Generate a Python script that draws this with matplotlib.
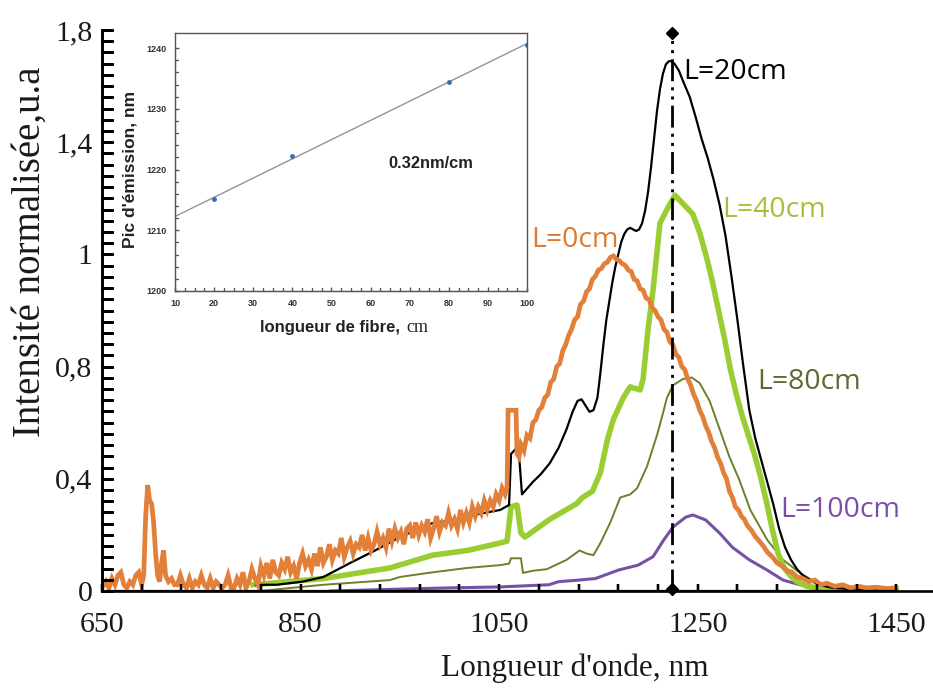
import matplotlib
matplotlib.use("Agg")
import matplotlib.pyplot as plt
import numpy as np

# ---------------- data ----------------
# L = 0 cm (orange, noisy)
wl_0 = [650, 654, 657, 660, 663, 666, 669, 672, 675, 678, 681, 684, 687, 690, 692, 694, 696, 698,
        700, 702, 704, 706, 708, 710, 712, 714, 717, 720, 723, 726, 729, 732, 735, 738, 741, 744,
        747, 750, 753, 756, 759, 762, 765, 768, 771, 774, 777, 780, 783, 786, 789, 792, 795, 798,
        801, 804, 807, 810, 813, 816, 819, 822, 825, 828, 831, 834, 837, 840, 843, 846, 849, 852,
        855, 858, 861, 864, 867, 870, 873, 876, 879, 882, 885, 888, 891, 894, 897, 900, 903, 906,
        909, 912, 915, 918, 921, 924, 927, 930, 933, 936, 939, 942, 945, 948, 951, 954, 957, 960,
        963, 966, 969, 972, 975, 978, 981, 984, 987, 990, 993, 996, 999, 1002, 1005, 1008, 1011,
        1014, 1017, 1020, 1023, 1026, 1029, 1032, 1035, 1038, 1041, 1044, 1047, 1050, 1053, 1056,
        1058, 1059, 1067, 1068, 1070, 1072, 1075, 1078, 1081, 1084, 1087, 1090, 1093, 1096, 1099,
        1102, 1105, 1108, 1111, 1114, 1117, 1120, 1123, 1126, 1129, 1132, 1135, 1138, 1141, 1144,
        1147, 1150, 1153, 1156, 1159, 1162, 1165, 1168, 1171, 1174, 1177, 1180, 1183, 1186, 1189,
        1192, 1195, 1198, 1201, 1204, 1207, 1210, 1213, 1216, 1219, 1222, 1225, 1228, 1231, 1234,
        1237, 1240, 1243, 1246, 1249, 1252, 1255, 1258, 1261, 1264, 1267, 1270, 1273, 1276, 1279,
        1282, 1285, 1288, 1291, 1294, 1297, 1300, 1304, 1308, 1312, 1316, 1320, 1325, 1330, 1335,
        1340, 1345, 1350, 1356, 1362, 1368, 1374, 1380, 1388, 1396, 1404, 1412, 1420, 1430, 1440,
        1450]
int_0 = [0.01, 0.03, 0.01, 0.04, 0.02, 0.05, 0.06, 0.02, 0.01, 0.03, 0.02, 0.05, 0.06, 0.02, 0.05, 0.24, 0.34, 0.29,
         0.28, 0.22, 0.12, 0.05, 0.03, 0.09, 0.13, 0.05, 0.03, 0.04, 0.02, 0.02, 0.05, 0.02, 0.01, 0.04, 0.01, 0.03,
         0.02, 0.05, 0.02, 0.01, 0.04, 0.01, 0.03, 0.02, 0.01, 0.02, 0.05, 0.01, 0.01, 0.04, 0.02, 0.06, 0.01, 0.03,
         0.07, 0.04, 0.02, 0.08, 0.05, 0.09, 0.04, 0.10, 0.06, 0.05, 0.09, 0.07, 0.11, 0.06, 0.08, 0.04, 0.09, 0.12,
         0.08, 0.10, 0.07, 0.12, 0.08, 0.14, 0.09, 0.11, 0.15, 0.10, 0.13, 0.12, 0.17, 0.11, 0.14, 0.16, 0.12, 0.15,
         0.14, 0.18, 0.13, 0.17, 0.13, 0.15, 0.19, 0.15, 0.17, 0.14, 0.20, 0.16, 0.20, 0.17, 0.19, 0.15, 0.20, 0.21,
         0.17, 0.22, 0.18, 0.21, 0.19, 0.23, 0.17, 0.20, 0.24, 0.19, 0.22, 0.21, 0.25, 0.21, 0.23, 0.20, 0.26,
         0.22, 0.25, 0.22, 0.27, 0.24, 0.27, 0.25, 0.29, 0.26, 0.29, 0.27, 0.31, 0.29, 0.33, 0.31,
         0.33, 0.58, 0.58, 0.44, 0.43, 0.47, 0.45, 0.50, 0.49, 0.54, 0.55, 0.58, 0.59, 0.62, 0.63,
         0.67, 0.68, 0.72, 0.73, 0.77, 0.79, 0.82, 0.84, 0.87, 0.88, 0.92, 0.93, 0.96, 0.97, 1.00,
         1.01, 1.03, 1.035, 1.05, 1.055, 1.07, 1.075, 1.065, 1.06, 1.05, 1.045, 1.03, 1.025, 1.00, 0.995,
         0.97, 0.965, 0.94, 0.935, 0.91, 0.90, 0.88, 0.87, 0.84, 0.83, 0.80, 0.79, 0.76, 0.75, 0.72,
         0.71, 0.68, 0.66, 0.63, 0.61, 0.58, 0.56, 0.53, 0.51, 0.48, 0.46, 0.43, 0.41, 0.38, 0.36,
         0.32, 0.30, 0.27, 0.26, 0.24, 0.23, 0.21, 0.195, 0.175, 0.16, 0.145, 0.125, 0.11, 0.09, 0.08,
         0.065, 0.06, 0.045, 0.04, 0.03, 0.035, 0.02, 0.025, 0.015, 0.02, 0.01, 0.015, 0.01, 0.012, 0.008,
         0.01]

# L = 20 cm (black)
wl_20 = [805, 826, 852, 873, 900, 925, 950, 983, 1003, 1034, 1051, 1060, 1062, 1068, 1070, 1073,
         1084, 1092, 1101, 1110, 1118, 1124, 1129, 1133, 1137, 1141, 1145, 1149, 1152, 1155, 1158,
         1161, 1164, 1167, 1170, 1173, 1176, 1179, 1182, 1185, 1188, 1191, 1194, 1197, 1200, 1203,
         1206, 1209, 1212, 1215, 1218, 1221, 1224, 1227, 1231, 1236, 1242, 1248, 1254, 1260, 1266,
         1272, 1278, 1284, 1290, 1296, 1302, 1308, 1314, 1320, 1326, 1332, 1338, 1344, 1350, 1356,
         1363, 1372, 1386, 1420, 1450]
int_20 = [0.02, 0.02, 0.03, 0.045, 0.09, 0.13, 0.173, 0.218, 0.228, 0.25, 0.26, 0.276, 0.44, 0.46, 0.44, 0.31,
          0.35, 0.375, 0.41, 0.46, 0.52, 0.575, 0.61, 0.615, 0.595, 0.575, 0.58, 0.62, 0.70, 0.79, 0.87,
          0.93, 0.99, 1.04, 1.08, 1.12, 1.145, 1.16, 1.165, 1.16, 1.155, 1.16, 1.18, 1.22, 1.28, 1.36,
          1.45, 1.54, 1.61, 1.66, 1.69, 1.70, 1.70, 1.69, 1.67, 1.63, 1.585, 1.52, 1.45, 1.39, 1.32,
          1.24, 1.14, 1.01, 0.87, 0.72, 0.58, 0.49, 0.42, 0.35, 0.28, 0.20, 0.14, 0.10, 0.07, 0.05,
          0.035, 0.02, 0.01, 0.003, 0.0]

# L = 40 cm (light green)
wl_40 = [802, 873, 940, 983, 1018, 1051, 1058, 1062, 1068, 1072, 1076, 1101, 1128, 1134, 1144,
         1152, 1159, 1165, 1175, 1182, 1192, 1195, 1200, 1205, 1212, 1220, 1227, 1233, 1239, 1245,
         1252, 1259, 1265, 1271, 1277, 1283, 1289, 1295, 1301, 1307, 1313, 1319, 1325, 1331, 1337,
         1343, 1350, 1360, 1385, 1420, 1450]
int_40 = [0.02, 0.04, 0.074, 0.115, 0.13, 0.154, 0.16, 0.27, 0.276, 0.186, 0.173, 0.23, 0.28, 0.30, 0.32,
          0.38, 0.485, 0.55, 0.62, 0.655, 0.645, 0.68, 0.84, 0.965, 1.18, 1.23, 1.27, 1.25, 1.23, 1.21,
          1.15, 1.07, 0.99, 0.90, 0.81, 0.71, 0.63, 0.56, 0.50, 0.44, 0.37, 0.29, 0.20, 0.12, 0.075,
          0.05, 0.03, 0.015, 0.004, 0.0, 0.0]

# L = 80 cm (olive)
wl_80 = [809, 873, 940, 950, 983, 1018, 1051, 1060, 1062, 1072, 1074, 1084, 1098, 1118, 1131, 1138,
         1145, 1152, 1162, 1172, 1182, 1189, 1199, 1209, 1215, 1219, 1225, 1235, 1244, 1252, 1262,
         1272, 1282, 1292, 1303, 1320, 1336, 1353, 1370, 1386, 1423, 1450]
int_80 = [0.0, 0.02, 0.035, 0.045, 0.06, 0.074, 0.083, 0.088, 0.105, 0.105, 0.058, 0.065, 0.07, 0.10, 0.13, 0.12,
          0.115, 0.154, 0.22, 0.30, 0.31, 0.33, 0.40, 0.50, 0.57, 0.62, 0.66, 0.68, 0.685, 0.667, 0.61,
          0.52, 0.43, 0.356, 0.26, 0.164, 0.10, 0.058, 0.026, 0.013, 0.005, 0.0]

# L = 100 cm (purple)
wl_100 = [880, 950, 1000, 1050, 1100, 1110, 1130, 1147, 1170, 1190, 1205, 1215, 1225, 1238, 1245,
          1258, 1272, 1285, 1302, 1320, 1336, 1353, 1370, 1400, 1450]
int_100 = [0.0, 0.006, 0.01, 0.013, 0.02, 0.03, 0.035, 0.04, 0.067, 0.083, 0.11, 0.16, 0.205, 0.237, 0.244,
           0.228, 0.186, 0.14, 0.10, 0.067, 0.035, 0.02, 0.01, 0.003, 0.0]

peak_marker_wl = 1224
peak_marker_top = 1.79

y_tick_values = [0, 0.36, 0.72, 1.08, 1.44, 1.8]
y_tick_labels = ["0", "0,4", "0,8", "1", "1,4", "1,8"]
x_tick_values = [650, 850, 1050, 1250, 1450]

# inset data
fiber_len = [20, 40, 80, 100]
peak_wl = [1215.1, 1222.2, 1234.5, 1240.6]

# ---------------- figure ----------------
W, H = 933, 688
fig = plt.figure(figsize=(W / 100, H / 100), dpi=100)
fig.patch.set_facecolor("white")

serif = ["Liberation Serif", "DejaVu Serif"]
sans_lbl = ["Open Sans", "DejaVu Sans"]
sans_b = ["Liberation Sans", "DejaVu Sans"]

AX_W, AX_H = 831, 561
ax = fig.add_axes([102 / W, 97 / H, AX_W / W, AX_H / H])
XMIN, XMAX, YMIN, YMAX = 650, 1487, 0, 1.8
ax.set_xlim(XMIN, XMAX)
ax.set_ylim(YMIN, YMAX)

c_orange = "#E2803A"
c_green = "#9ACD32"
c_olive = "#6E7F2A"
c_purple = "#7652A3"

ax.plot(wl_100, int_100, color=c_purple, lw=2.2, zorder=2, solid_joinstyle="round")
ax.plot(wl_80, int_80, color=c_olive, lw=1.4, zorder=3, solid_joinstyle="round")
ax.plot(wl_40, int_40, color=c_green, lw=4.0, zorder=4, solid_joinstyle="round")
ax.plot(wl_20, int_20, color="black", lw=1.6, zorder=5, solid_joinstyle="round")
ax.plot(wl_0, int_0, color=c_orange, lw=3.4, zorder=6, solid_joinstyle="miter")

# vertical dash-dot-dot line with diamonds
ax.plot([peak_marker_wl, peak_marker_wl], [0, peak_marker_top], color="black", lw=2.0,
        linestyle=(0, (7.9, 2.2, 1.1, 2.2, 1.1, 2.2)), zorder=7, clip_on=False)
ax.plot([peak_marker_wl, peak_marker_wl], [0.005, peak_marker_top], linestyle="none",
        marker="D", ms=6, color="black", zorder=8, clip_on=False)

# curve labels
ax.text(1235, 1.665, "L=20cm", color="black", fontsize=20.5, family=sans_lbl, ha="left", va="center")
ax.text(1275, 1.222, "L=40cm", color="#A3C233", fontsize=20.5, family=sans_lbl, ha="left", va="center")
ax.text(1126, 1.126, "L=0cm", color="#E07A30", fontsize=20.5, family=sans_lbl, ha="center", va="center")
ax.text(1310, 0.67, "L=80cm", color="#5E6A2E", fontsize=20.5, family=sans_lbl, ha="left", va="center")
ax.text(1333, 0.26, "L=100cm", color="#7A4FA8", fontsize=20.5, family=sans_lbl, ha="left", va="center")

# axes styling
for s in ["top", "right"]:
    ax.spines[s].set_visible(False)
for s in ["left", "bottom"]:
    ax.spines[s].set_linewidth(1.9)
    ax.spines[s].set_color("black")
    ax.spines[s].set_zorder(9)

y_minor = np.arange(0, 1.8001, 0.036)
x_minor = np.arange(650, 1487, 40)
ax.set_yticks(y_tick_values)
ax.set_yticklabels(y_tick_labels)
ax.set_yticks(y_minor, minor=True)
ax.set_xticks(x_tick_values)
ax.set_xticks(x_minor, minor=True)
ax.tick_params(axis="y", which="both", left=True, right=False, labelleft=True,
               direction="in", length=8, width=1.8, color="black")
ax.tick_params(axis="y", which="major", pad=7)
ax.tick_params(axis="x", which="both", bottom=True, top=False, labelbottom=True,
               direction="in", length=5, width=1.6, color="black")
ax.tick_params(axis="x", which="major", pad=15)


def comb(axis_obj, positions, x0, y0, tick_len, vertical_axis, **kw):
    """Inward tick comb along a spine as one polyline in data coordinates."""
    xs, ys = [], []
    for p in positions:
        if vertical_axis:
            xs += [x0, x0 + tick_len, x0]
            ys += [p, p, p]
        else:
            xs += [p, p, p]
            ys += [y0, y0 + tick_len, y0]
    axis_obj.plot(xs, ys, clip_on=False, solid_joinstyle="miter", solid_capstyle="butt", **kw)


# tick lengths: 11 px along the y spine, 7 px along the x spine (converted to data units)
comb(ax, y_minor, XMIN, YMIN, 11 * (XMAX - XMIN) / AX_W, True, color="black", lw=1.8, zorder=10)
comb(ax, x_minor, XMIN, YMIN, 7 * (YMAX - YMIN) / AX_H, False, color="black", lw=1.6, zorder=10)
ax.set_xlim(XMIN, XMAX)
ax.set_ylim(YMIN, YMAX)

for lab in ax.get_xticklabels() + ax.get_yticklabels():
    lab.set_family(serif)
    lab.set_fontsize(21.5)
    lab.set_color("#1a1a1a")

ax.set_xlabel("Longueur d'onde, nm", family=serif, fontsize=22.5, color="#1a1a1a", va="center")
ax.xaxis.set_label_coords(0.569, -0.137)
ax.set_ylabel("Intensité normalisée,u.a", family=serif, fontsize=28, color="#1a1a1a", va="center")
ax.yaxis.set_label_coords(-0.086, 0.604)

# ---------------- inset ----------------
IN_W, IN_H = 352, 258
axin = fig.add_axes([175 / W, 1 - 291 / H, IN_W / W, IN_H / H])
IX0, IX1, IY0, IY1 = 10, 100, 1200, 1242.5
slope, intercept = np.polyfit(fiber_len, peak_wl, 1)
xx = np.array([IX0, IX1])
axin.plot(xx, slope * xx + intercept, color="#8a96a3", lw=1.0)
axin.plot(fiber_len, peak_wl, linestyle="none", marker="o", ms=2.5, color="#3b6ea8")
for s in axin.spines.values():
    s.set_linewidth(1.0)
    s.set_color("#555555")
in_xminor = np.arange(10, 101, 2.5)
in_yminor = np.arange(1200, 1241, 2)
axin.set_xticks(np.arange(10, 101, 10))
axin.set_xticks(in_xminor, minor=True)
axin.set_yticks(np.arange(1200, 1241, 10))
axin.set_yticks(in_yminor, minor=True)
axin.tick_params(which="both", left=True, bottom=True, top=False, right=False,
                 labelleft=True, labelbottom=True, direction="in", color="#555555")
axin.tick_params(which="major", length=3, width=0.9, pad=6)
axin.tick_params(which="minor", length=2, width=0.8)
comb(axin, in_yminor, IX0, IY0, 3 * (IX1 - IX0) / IN_W, True, color="#555555", lw=0.8)
comb(axin, in_xminor, IX0, IY0, 3 * (IY1 - IY0) / IN_H, False, color="#555555", lw=0.8)
axin.set_xlim(IX0, IX1)
axin.set_ylim(IY0, IY1)
for lab in axin.get_xticklabels() + axin.get_yticklabels():
    lab.set_fontsize(6.5)
    lab.set_fontweight("bold")
    lab.set_color("#333333")
    lab.set_family(sans_b)
axin.set_ylabel("Pic d'émission, nm", fontsize=12.5, fontweight="bold",
                family=sans_b, color="#222222", va="center")
axin.yaxis.set_label_coords(-0.128, 0.47)
axin.text(0.639, -0.159, "longueur de fibre,", transform=axin.transAxes, ha="right", va="baseline",
          fontsize=12, fontweight="bold", family=sans_b, color="#222222")
axin.text(0.656, -0.159, "cm", transform=axin.transAxes, ha="left", va="baseline",
          fontsize=13, family=serif, color="#222222")
axin.text(0.727, 0.496, "0.32nm/cm", transform=axin.transAxes, ha="center", va="center",
          fontsize=11.8, fontweight="bold", family=sans_b, color="#222222")

fig.savefig("out.png", dpi=100)
